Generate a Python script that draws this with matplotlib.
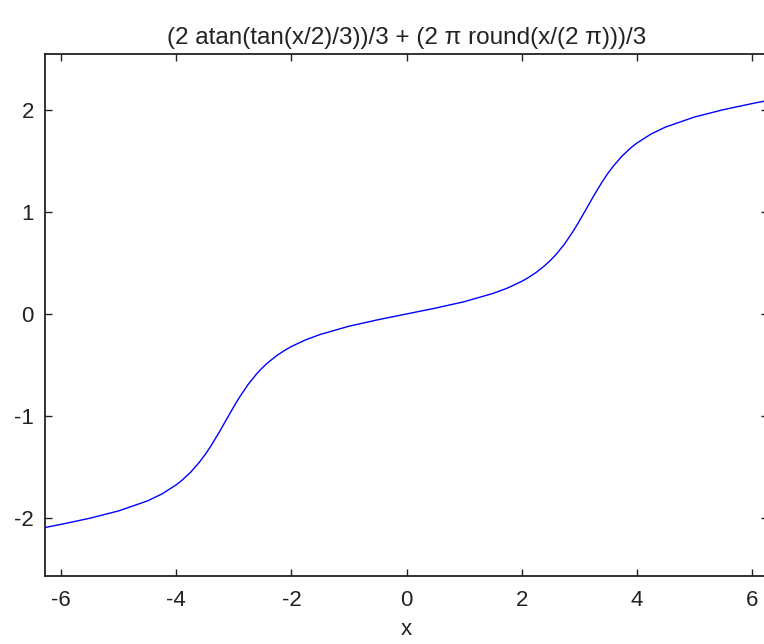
import numpy as np
import matplotlib
matplotlib.use("Agg")
import matplotlib.pyplot as plt

# sampled curve, x in radians over one full period either side of zero
x_vals = [
    -6.28, -6.00, -5.50, -5.00, -4.50, -4.25, -4.00, -3.90, -3.75, -3.60,
    -3.50, -3.40, -3.25, -3.20, -3.10, -3.00, -2.90, -2.75, -2.60, -2.50,
    -2.40, -2.25, -2.10, -2.00, -1.75, -1.50, -1.00, -0.50, 0.00,
    0.50, 1.00, 1.50, 1.75, 2.00, 2.10, 2.25, 2.40, 2.50, 2.60, 2.75,
    2.90, 3.00, 3.10, 3.20, 3.25, 3.40, 3.50, 3.60, 3.75, 3.90, 4.00,
    4.25, 4.50, 5.00, 5.50, 6.00, 6.28,
]
y_vals = [
    -2.094, -2.063, -2.003, -1.931, -1.833, -1.765, -1.675, -1.630, -1.551, -1.454,
    -1.379, -1.295, -1.155, -1.105, -1.006, -0.908, -0.814, -0.689, -0.584, -0.525,
    -0.473, -0.406, -0.351, -0.319, -0.253, -0.201, -0.120, -0.057, 0.000,
    0.057, 0.120, 0.201, 0.253, 0.319, 0.351, 0.406, 0.473, 0.525, 0.584, 0.689,
    0.814, 0.908, 1.006, 1.105, 1.155, 1.295, 1.379, 1.454, 1.551, 1.630, 1.675,
    1.765, 1.833, 1.931, 2.003, 2.063, 2.094,
]
x_ticks = [-6, -4, -2, 0, 2, 4, 6]
y_ticks = [-2, -1, 0, 1, 2]
title = "(2 atan(tan(x/2)/3))/3 + (2 \u03c0 round(x/(2 \u03c0)))/3"

plt.rcParams["font.family"] = ["Liberation Sans", "DejaVu Sans"]

fig = plt.figure(figsize=(7.64, 6.44), dpi=100)
ax = fig.add_axes([45 / 764, 68 / 644, 723 / 764, 522 / 644])

ax.plot(x_vals, y_vals, color="#0000ff", linewidth=1.0)

ax.set_xlim(-2 * np.pi, 2 * np.pi)
ax.set_ylim(-2.57, 2.55)
ax.set_xticks(x_ticks)
ax.set_yticks(y_ticks)
ax.set_xticklabels([str(t) for t in x_ticks])
ax.set_yticklabels([str(t) for t in y_ticks])
ax.tick_params(direction="in", length=5, width=1.0, top=True, right=True,
               labelsize=16, colors="#222222", pad=8)
ax.tick_params(axis="x", pad=10)
for spine in ax.spines.values():
    spine.set_linewidth(1.3)
    spine.set_color("#222222")

ax.set_xlabel("x", fontsize=16, color="#222222", labelpad=6)
ax.set_title(title, fontsize=17.5, color="#222222", pad=7)

fig.savefig("out.png", dpi=100)
